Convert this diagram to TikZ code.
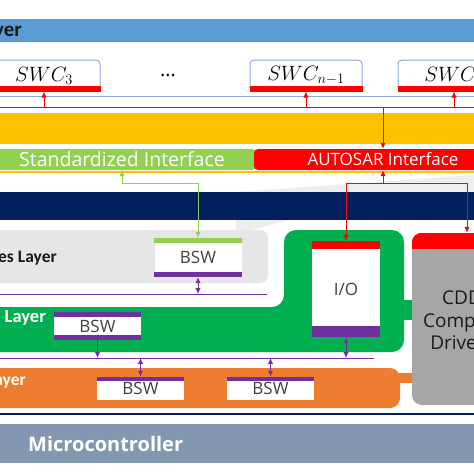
\documentclass[tikz,border=0pt]{standalone}
\usepackage{fontspec}
\setmainfont{Open Sans}
\newfontfamily\labelfont{Carlito}
\usetikzlibrary{positioning,arrows.meta}
\definecolor{appblue}{HTML}{5B9BD5}
\definecolor{swcline}{HTML}{8FAADC}
\definecolor{autored}{HTML}{FF0000}
\definecolor{rteyellow}{HTML}{FFC000}
\definecolor{stdgreen}{HTML}{92D050}
\definecolor{navy}{HTML}{002060}
\definecolor{servgray}{HTML}{E7E6E6}
\definecolor{wedgegray}{HTML}{EEEEEE}
\definecolor{ecugreen}{HTML}{00B050}
\definecolor{bswpurple}{HTML}{7030A0}
\definecolor{mcorange}{HTML}{ED7D31}
\definecolor{cddgray}{HTML}{A6A6A6}
\definecolor{mcgray}{HTML}{8497B0}
\definecolor{darktext}{HTML}{1A1A1A}
\definecolor{bswtext}{HTML}{404040}

\begin{document}
\begin{tikzpicture}[x=1pt, y=-1pt, >={Latex[length=6pt,width=5.5pt]},
    swc/.style={draw=swcline, line width=1pt, fill=white, rounded corners=4pt,
      minimum width=112pt, minimum height=31pt, inner sep=0pt,
      font=\fontsize{21}{22}\selectfont},
    ifbar/.style={rounded corners=4pt, minimum height=21pt, inner sep=0pt,
      text=white, font=\fontsize{17}{17}\selectfont},
    bsw/.style={fill=white, minimum width=87pt, inner sep=0pt, text=bswtext,
      font=\fontsize{17}{17}\selectfont},
    layertext/.style={inner sep=0pt, font=\labelfont\bfseries\fontsize{17.5}{18}\selectfont},
    redline/.style={draw=autored, line width=1pt},
    greenline/.style={draw=stdgreen, line width=1pt},
    purpleline/.style={draw=bswpurple, line width=1pt}]

  \useasboundingbox (0,0) rectangle (474,474);
  \clip (0,0) rectangle (474,474);
  \fill[white] (0,0) rectangle (474,474);

  % application layer
  \fill[appblue] (0,19) rectangle (474,42);
  \node [layertext, text=darktext, anchor=east, font=\labelfont\bfseries\fontsize{21}{21}\selectfont]
    at (22,31) (applabel) {Application Layer};

  \node [swc] at (44,75.5) (swc3) {\raisebox{3pt}{$SWC_3$}};
  \node [swc] at (306,75.5) (swcn1) {\raisebox{3pt}{$SWC_{n-1}$}};
  \node [swc] at (454,75.5) (swcn) {\raisebox{3pt}{$SWC_n$}};
  \node [font=\fontsize{20}{22}\selectfont] at (168,75) (dots) {\dots};
  \foreach \s in {swc3,swcn1,swcn}
    \fill[autored] ([yshift=6pt]\s.south west) rectangle (\s.south east);

  \draw[swcline, line width=1pt] (0,96) -- (474,96);
  \coordinate (busw) at (0,107);
  \coordinate (buse) at (474,107);
  \draw[redline] (busw) -- (buse);
  \foreach \s in {swc3,swcn1,swcn}
    \draw[redline, ->] (\s.south |- busw) -- (\s.south);

  % rte
  \fill[rteyellow] (0,113) rectangle (474,144);
  \node [ifbar, fill=stdgreen, minimum width=268pt, font=\fontsize{19.5}{20}\selectfont]
    at (122,159.5) (stdif) {Standardized Interface};
  \node [ifbar, fill=autored, minimum width=258pt] at (383,159.5) (autosarif) {AUTOSAR Interface};
  \draw[rteyellow, line width=1.2pt] (0,172) -- (474,172);
  \draw[redline, ->] (autosarif.north |- busw) -- (autosarif.north);

  % basic software
  \fill[wedgegray] (236,192) -- (474,175) -- (474,205) -- (300,217) -- (236,234) -- cycle;
  \fill[navy] (0,192) rectangle (474,220);

  \fill[servgray, rounded corners=8pt] (-20,230) rectangle (268,283);
  \node [layertext, text=darktext, anchor=east] at (57,258) (servlabel) {Services Layer};
  \node [bsw, minimum height=39pt] at (198,257.5) (servbsw) {BSW};
  \fill[stdgreen] (servbsw.north west) rectangle ([yshift=-5pt]servbsw.north east);
  \fill[bswpurple] (servbsw.south west) rectangle ([yshift=5pt]servbsw.south east);
  \coordinate (svlw) at (0,294);
  \coordinate (svle) at (267,294);
  \draw[purpleline] (svlw) -- (svle);

  \fill[ecugreen, rounded corners=12pt] (-20,307) -- (284,307) -- (284,230) -- (404,230)
    -- (404,352) -- (-20,352) -- cycle;
  \fill[ecugreen] (400,300) rectangle (414,320);
  \node [layertext, text=white, anchor=east, font=\labelfont\bfseries\fontsize{18.5}{18}\selectfont]
    at (46,317) (eculabel) {ECU Abstraction Layer};
  \node [bsw, minimum height=28pt] at (97.5,326) (ecubsw) {BSW};
  \fill[bswpurple] (ecubsw.north west) rectangle ([yshift=-5pt]ecubsw.north east);
  \fill[bswpurple] (ecubsw.south west) rectangle ([yshift=5pt]ecubsw.south east);

  \node [bsw, minimum width=68pt, minimum height=96pt] at (346,289) (io) {I/O};
  \fill[autored] (io.north west) rectangle ([yshift=-8pt]io.north east);
  \fill[bswpurple] (io.south west) rectangle ([yshift=11pt]io.south east);
  \coordinate (ecuw) at (0,358);
  \coordinate (ecue) at (374,358);
  \draw[purpleline] (ecuw) -- (ecue);

  \fill[mcorange, rounded corners=10pt] (-20,368) rectangle (400,408);
  \fill[mcorange] (396,373) rectangle (414,383);
  \node [layertext, text=white, anchor=east] at (26,381) (mcallabel) {Microcontroller Abstraction Layer};
  \node [bsw, minimum height=23pt] at (140.5,388.5) (mcalbsw1) {BSW};
  \node [bsw, minimum height=23pt] at (270.5,388.5) (mcalbsw2) {BSW};
  \foreach \s in {mcalbsw1,mcalbsw2}
    \fill[bswpurple] (\s.north west) rectangle ([yshift=-4pt]\s.north east);

  % complex drivers
  \node [fill=cddgray, rounded corners=10pt, minimum width=110pt, minimum height=172pt,
    inner sep=0pt] at (467,319) (cdd) {};
  \begin{scope}
    \clip[rounded corners=10pt] (cdd.north west) rectangle (cdd.south east);
    \fill[autored] (cdd.north west) rectangle ([yshift=-16pt]cdd.north east);
  \end{scope}
  \node [align=center, text=darktext, font=\fontsize{19}{22.5}\selectfont] at (462,320.5) (cddtext)
    {CDD\\Complex\\Drivers};

  % connectors
  \draw[greenline, <->] (stdif.south) -- ++(0,13) -| (servbsw.north);
  \coordinate (rfork) at (383,183);
  \draw[redline, <-] (autosarif.south) -- (rfork);
  \draw[redline, ->] (rfork) -| (io.north);
  \draw[redline, ->] (rfork) -| (cdd.north);
  \draw[purpleline, <->] (servbsw.south) -- (servbsw.south |- svlw);
  \draw[purpleline, ->] (ecubsw.south) -- (ecubsw.south |- ecuw);
  \draw[purpleline, <->] (io.south) -- (io.south |- ecuw);
  \draw[purpleline, <->] (ecuw -| mcalbsw1.north) -- (mcalbsw1.north);
  \draw[purpleline, <->] (ecuw -| mcalbsw2.north) -- (mcalbsw2.north);

  % microcontroller
  \draw[navy, line width=1.5pt] (0,414) -- (474,414);
  \fill[mcgray] (0,424) rectangle (474,463);
  \node [inner sep=0pt, text=white, anchor=west, font=\bfseries\fontsize{20}{20}\selectfont]
    at (28,444) (mclabel) {Microcontroller};
\end{tikzpicture}
\end{document}
